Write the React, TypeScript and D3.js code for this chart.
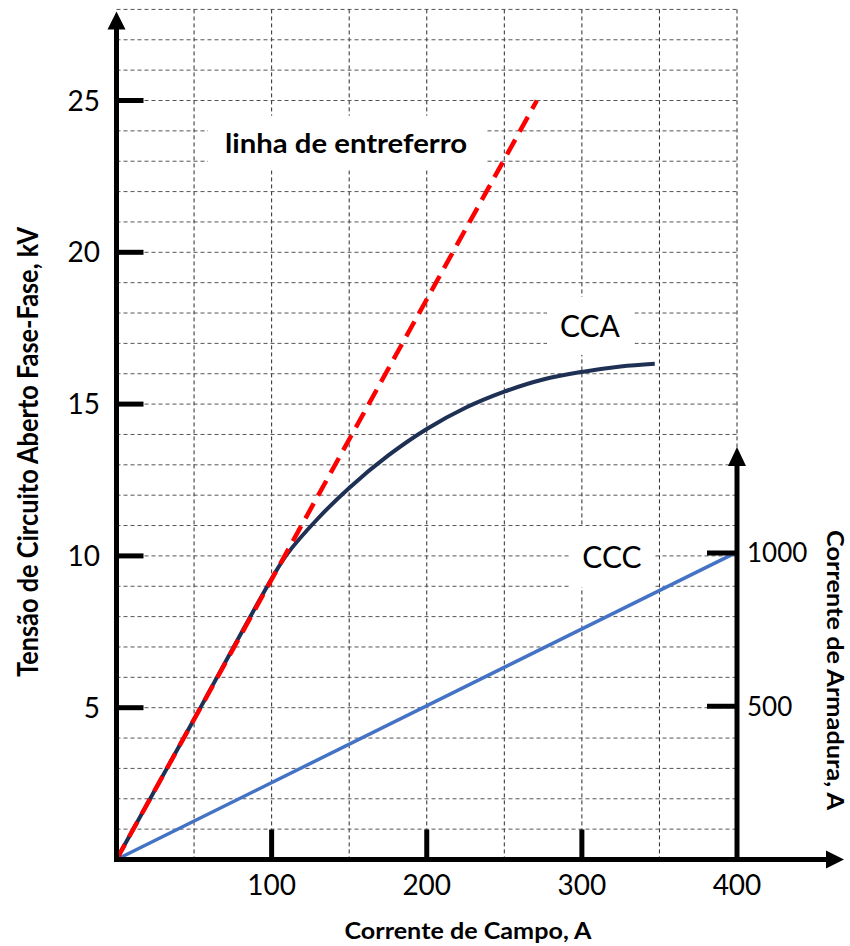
import React from "react";
import * as d3 from "d3";

// ---- data ----
const xTickValues = [100, 200, 300, 400];
const yTickValues = [5, 10, 15, 20, 25];
const rightTickValues = [500, 1000];
const xGridValues = [50, 100, 150, 200, 250, 300, 350, 400];
const yGridValues = [1, 2, 3, 4, 5, 6, 7, 8, 9, 10, 11, 12, 13, 14, 15, 16, 17, 18, 19, 20, 21, 22, 23, 24, 25, 26, 27, 28];

const ccaField = [0, 50, 100, 110, 130, 150, 175, 200, 225, 250, 275, 300, 325, 347];
const ccaVolt = [0, 4.62, 9.25, 10.06, 11.24, 12.24, 13.3, 14.18, 14.88, 15.41, 15.81, 16.06, 16.24, 16.33];

const airgapField = [0, 271];
const airgapVolt = [0, 25];

const cccField = [0, 400];
const cccArm = [0, 1003];

const FONT = "Lato, 'Open Sans', sans-serif";

export default function App() {
  const W = 850;
  const H = 946;
  const x = d3.scaleLinear().domain([0, 400]).range([116.5, 737]);
  const y = d3.scaleLinear().domain([0, 25]).range([859.5, 100.5]);
  const yR = d3.scaleLinear().domain([0, 1000]).range([859.5, 553]);

  const lineV = d3
    .line<[number, number]>()
    .x((d) => x(d[0]))
    .y((d) => y(d[1]))
    .curve(d3.curveCatmullRom.alpha(0.5));
  const lineStraight = d3
    .line<[number, number]>()
    .x((d) => x(d[0]))
    .y((d) => y(d[1]));
  const lineR = d3
    .line<[number, number]>()
    .x((d) => x(d[0]))
    .y((d) => yR(d[1]));

  const cca = ccaField.map((f, i) => [f, ccaVolt[i]] as [number, number]);
  const airgap = airgapField.map((f, i) => [f, airgapVolt[i]] as [number, number]);
  const ccc = cccField.map((f, i) => [f, cccArm[i]] as [number, number]);

  const x0 = x(0);
  const y0 = y(0);
  const xEnd = x(400);
  const yTop = y(28);

  const box = (a0: number, a1: number, v0: number, v1: number) => ({
    x: x(a0),
    y: y(v1),
    width: x(a1) - x(a0),
    height: y(v0) - y(v1),
  });

  return (
    <svg
      width={W}
      height={H}
      style={{ position: "absolute", left: 0, top: 0, background: "#fff" }}
      fontFamily={FONT}
    >
      <rect x={0} y={0} width={W} height={H} fill="#fff" />
      {/* grid */}
      <g strokeWidth={1} strokeDasharray="4 3" fill="none">
        {xGridValues.map((v) => (
          <line key={"gx" + v} x1={x(v)} x2={x(v)} y1={yTop} y2={y0} stroke="#2a2a2a" />
        ))}
        {yGridValues.map((v) => (
          <line key={"gy" + v} x1={x0} x2={xEnd} y1={y(v)} y2={y(v)} stroke="#555" />
        ))}
      </g>
      {/* label backgrounds */}
      <rect {...box(59, 237.5, 22.7, 24.5)} fill="#fff" />
      <rect {...box(277.5, 334, 16.62, 18.53)} fill="#fff" />
      <rect {...box(291.7, 346.5, 8.97, 10.95)} fill="#fff" />

      {/* curves */}
      <path d={lineR(ccc) || ""} fill="none" stroke="#4472C4" strokeWidth={3.5} />
      <path d={lineV(cca) || ""} fill="none" stroke="#1F3055" strokeWidth={4} />
      <path
        d={lineStraight(airgap) || ""}
        fill="none"
        stroke="#FF0000"
        strokeWidth={4.5}
        strokeDasharray="17 9"
      />

      {/* axes */}
      <g stroke="#000" strokeWidth={5}>
        <line x1={x0} x2={x0} y1={y0 + 2.5} y2={yTop + 18} />
        <line x1={x0 - 2.5} x2={828} y1={y0} y2={y0} />
        <line x1={xEnd} x2={xEnd} y1={y0} y2={465} />
        {yTickValues.map((v) => (
          <line key={"yt" + v} x1={x0} x2={x0 + 27} y1={y(v)} y2={y(v)} />
        ))}
        {xTickValues.slice(0, 3).map((v) => (
          <line key={"xt" + v} x1={x(v)} x2={x(v)} y1={y0} y2={y0 - 30} />
        ))}
        {rightTickValues.map((v) => (
          <line key={"rt" + v} x1={xEnd} x2={xEnd - 30} y1={yR(v)} y2={yR(v)} />
        ))}
      </g>
      <polygon points={`${x0 - 9},${yTop + 20} ${x0},${yTop + 2} ${x0 + 9},${yTop + 20}`} fill="#000" />
      <polygon points={`826,${y0 - 9} 844,${y0} 826,${y0 + 9}`} fill="#000" />
      <polygon points={`${xEnd - 9},466 ${xEnd},447 ${xEnd + 9},466`} fill="#000" />

      {/* tick labels */}
      <g fontSize={28} fill="#000">
        {yTickValues.map((v) => (
          <text key={"yl" + v} x={100} y={y(v)} dy="0.36em" textAnchor="end">
            {v}
          </text>
        ))}
        {xTickValues.map((v) => (
          <text key={"xl" + v} x={x(v)} y={895} textAnchor="middle">
            {v}
          </text>
        ))}
      </g>
      <g fontSize={26} fill="#000">
        {rightTickValues.map((v) => (
          <text key={"rl" + v} x={xEnd + 10} y={yR(v)} dy="0.36em" textAnchor="start">
            {v}
          </text>
        ))}
      </g>

      {/* annotations */}
      <text x={x(148)} y={y(23.27)} fontSize={27} fontWeight="bold" textAnchor="middle" textLength={242} lengthAdjust="spacingAndGlyphs">
        linha de entreferro
      </text>
      <text x={x(305.2)} y={y(17.21)} fontSize={30} textAnchor="middle">
        CCA
      </text>
      <text x={x(319.4)} y={y(9.6)} fontSize={30} textAnchor="middle">
        CCC
      </text>

      {/* axis titles */}
      <text
        transform={`translate(38,452) rotate(-90)`}
        fontSize={29}
        fontWeight="bold"
        textAnchor="middle"
        textLength={450}
        lengthAdjust="spacingAndGlyphs"
      >
        Tensão de Circuito Aberto Fase-Fase, kV
      </text>
      <text x={468} y={939} fontSize={23} fontWeight="bold" textAnchor="middle" textLength={247} lengthAdjust="spacingAndGlyphs">
        Corrente de Campo, A
      </text>
      <text
        transform={`translate(827,670) rotate(90)`}
        fontSize={23}
        fontWeight="bold"
        textAnchor="middle"
        textLength={280}
        lengthAdjust="spacingAndGlyphs"
      >
        Corrente de Armadura, A
      </text>
    </svg>
  );
}
